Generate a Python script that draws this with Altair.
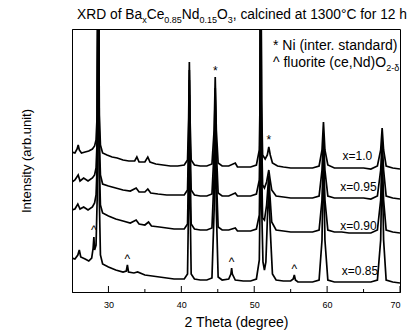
import altair as alt
import pandas as pd

# ---------------- data (2-theta in degrees, intensity in arbitrary units) ----------------
tt_100 = [25.0, 25.4, 25.7, 25.85, 26.0, 26.3, 26.8, 27.3, 27.8, 28.1, 28.3, 28.45, 28.6, 28.75, 28.9,
          29.2, 29.8, 30.5, 31.2, 32.0, 32.8, 33.6, 33.9, 34.2, 35.0, 35.4, 35.7, 36.5, 37.5, 38.5,
          39.5, 40.4, 40.85, 41.0, 41.1, 41.2, 41.35, 41.8, 42.6, 43.5, 44.2, 44.5, 44.65, 44.8, 45.05,
          45.6, 46.5, 47.4, 47.7, 48.5, 49.5, 50.3, 50.7, 50.8, 50.9, 51.0, 51.15, 51.5, 51.8, 52.0,
          52.2, 52.5, 53.2, 54.0, 55.0, 56.0, 57.0, 58.0, 58.9, 59.3, 59.5, 59.7, 60.1, 61.0, 62.0,
          63.0, 64.0, 65.0, 66.0, 66.9, 67.35, 67.55, 67.75, 68.1, 69.0, 70.0]
int_100 = [140, 139, 143, 147, 142, 139, 140, 141, 143, 146, 152, 177, 400, 177, 147,
           139, 137, 135, 134, 132, 131, 131, 135, 130, 130, 135, 130, 128, 127, 126,
           126, 127, 132, 172, 230, 172, 132, 127, 126, 126, 128, 162, 215, 162, 129,
           126, 126, 129, 125, 125, 125, 127, 142, 192, 400, 192, 137, 133, 137, 145,
           137, 129, 126, 125, 124, 124, 124, 124, 126, 142, 170, 142, 127, 124, 124,
           124, 124, 124, 123, 126, 142, 164, 142, 126, 124, 123]

tt_095 = [25.0, 25.4, 25.85, 26.1, 26.6, 27.2, 27.8, 28.1, 28.3, 28.45, 28.6, 28.75, 28.9, 29.2, 30.0,
          31.0, 32.0, 33.0, 33.8, 34.2, 35.0, 35.4, 35.8, 36.8, 38.0, 39.0, 40.4, 40.85, 41.0, 41.1,
          41.2, 41.35, 41.8, 42.6, 43.5, 44.2, 44.5, 44.65, 44.8, 45.05, 45.6, 46.5, 47.4, 47.7, 48.5,
          49.5, 50.3, 50.7, 50.8, 50.9, 51.0, 51.15, 51.4, 51.7, 51.85, 52.0, 52.15, 52.4, 53.0, 54.0,
          55.0, 56.0, 57.0, 58.0, 58.9, 59.3, 59.5, 59.7, 60.1, 61.0, 62.0, 63.0, 64.0, 65.0, 66.0,
          66.9, 67.35, 67.55, 67.75, 68.1, 69.0, 70.0]
int_095 = [110, 112, 117, 111, 114, 111, 114, 117, 124, 152, 400, 152, 117, 108, 106,
           104, 102, 101, 104, 100, 100, 103, 99, 98, 97, 97, 97, 102, 152, 222,
           152, 102, 97, 96, 96, 98, 142, 204, 142, 99, 96, 96, 99, 96, 96,
           96, 98, 112, 162, 400, 162, 107, 104, 110, 116, 122, 114, 102, 96, 95,
           94, 94, 94, 94, 96, 122, 157, 122, 96, 94, 94, 94, 94, 94, 93,
           96, 122, 152, 122, 96, 94, 93]

tt_090 = [25.0, 25.4, 25.8, 26.1, 26.6, 27.2, 27.8, 28.1, 28.3, 28.45, 28.6, 28.75, 28.9, 29.2, 30.0,
          31.0, 32.0, 33.0, 33.8, 34.2, 35.0, 35.5, 35.9, 37.0, 38.0, 39.0, 40.4, 40.85, 41.0, 41.1,
          41.2, 41.35, 41.8, 42.6, 43.5, 44.2, 44.5, 44.65, 44.8, 45.05, 45.6, 46.5, 47.4, 47.7, 48.5,
          49.5, 50.3, 50.7, 50.8, 50.9, 51.0, 51.15, 51.4, 51.7, 51.85, 52.0, 52.15, 52.4, 53.0, 54.0,
          55.0, 56.0, 57.0, 58.0, 58.9, 59.3, 59.5, 59.7, 60.1, 61.0, 62.0, 63.0, 64.0, 65.0, 66.0,
          66.9, 67.35, 67.55, 67.75, 68.1, 69.0, 70.0]
int_090 = [82, 83, 88, 83, 85, 82, 85, 89, 97, 127, 400, 127, 87, 79, 76,
           73, 71, 69, 72, 68, 67, 70, 66, 65, 64, 63, 63, 68, 127, 212,
           127, 68, 63, 62, 62, 64, 117, 192, 117, 65, 62, 62, 64, 61, 61,
           61, 63, 77, 132, 400, 132, 74, 72, 87, 102, 116, 97, 70, 62, 61,
           60, 60, 60, 60, 62, 92, 142, 92, 62, 60, 60, 59, 59, 59, 59,
           62, 92, 137, 92, 62, 60, 59]

tt_085 = [25.0, 25.4, 25.8, 26.0, 26.2, 26.8, 27.3, 27.7, 27.9, 28.0, 28.1, 28.3, 28.45, 28.6, 28.75,
          28.9, 29.2, 30.0, 31.0, 32.0, 32.45, 32.6, 32.75, 33.5, 34.0, 35.0, 36.0, 37.0, 38.0, 39.0,
          40.4, 40.85, 41.0, 41.1, 41.2, 41.35, 41.8, 42.6, 43.5, 44.2, 44.5, 44.65, 44.8, 45.05, 45.6,
          46.5, 46.8, 46.9, 47.0, 47.4, 48.5, 49.5, 50.3, 50.7, 50.8, 50.9, 51.0, 51.2, 51.4, 51.6,
          51.8, 52.0, 52.2, 52.5, 53.0, 54.0, 55.0, 55.35, 55.5, 55.65, 56.0, 57.0, 58.0, 58.9, 59.3,
          59.5, 59.7, 60.1, 61.0, 62.0, 63.0, 64.0, 65.0, 66.0, 66.9, 67.35, 67.55, 67.75, 68.1, 69.0,
          70.0]
int_085 = [34, 33, 37, 42, 35, 33, 31, 34, 44, 55, 42, 47, 92, 400, 92,
           37, 28, 25, 22, 20, 21, 27, 20, 19, 20, 17, 16, 15, 14, 13,
           13, 18, 92, 197, 92, 18, 13, 12, 12, 14, 82, 182, 82, 15, 12,
           13, 18, 24, 18, 12, 11, 11, 13, 32, 92, 400, 92, 30, 22, 30,
           72, 107, 62, 18, 12, 11, 11, 13, 17, 12, 10, 10, 10, 12, 52,
           142, 52, 12, 10, 10, 10, 10, 10, 10, 12, 52, 134, 52, 12, 10,
           9]

series_names = ["x=1.0", "x=0.95", "x=0.90", "x=0.85"]

# peak markers: symbol, 2-theta, intensity level
mark_sym = ["*", "*", "^", "^", "^", "^"]
mark_tt = [44.65, 52.0, 28.0, 32.6, 46.9, 55.5]
mark_int = [221, 152, 62, 33, 30, 23]

# trace labels
label_tt = [66.2, 66.8, 66.8, 67.0]
label_int = [136, 105, 66, 21]

x_ticks_major = [30, 40, 50, 60, 70]
x_ticks_minor = [35, 45, 55, 65]

# ---------------- build tables ----------------
rows = []
for name, tt, it in zip(series_names, [tt_100, tt_095, tt_090, tt_085],
                        [int_100, int_095, int_090, int_085]):
    for i, (a, b) in enumerate(zip(tt, it)):
        rows.append({"series": name, "tt": a, "I": b, "idx": i})
df = pd.DataFrame(rows)

marks_df = pd.DataFrame({"sym": mark_sym, "tt": mark_tt, "I": mark_int})
labels_df = pd.DataFrame({"lab": series_names, "tt": label_tt, "I": label_int})
major_df = pd.DataFrame({"tt": x_ticks_major})
minor_df = pd.DataFrame({"tt": x_ticks_minor})

W, H = 328, 263
FONT = "Liberation Sans"

xs = alt.Scale(domain=[25, 70], nice=False, zero=False)
ys = alt.Scale(domain=[0, 263], nice=False, zero=False)

lines = alt.Chart(df).mark_line(color="black", strokeWidth=1.7, clip=True).encode(
    x=alt.X("tt:Q", scale=xs, axis=alt.Axis(
        values=x_ticks_major, format="d", ticks=False, labelFontSize=9, labelPadding=8,
        title="2 Theta (degree)", titleFontSize=14, titlePadding=6, grid=False,
        titleFontWeight="normal")),
    y=alt.Y("I:Q", scale=ys, axis=alt.Axis(
        labels=False, ticks=False, grid=False, title="Intensity (arb.unit)",
        titleFontSize=13, titlePadding=39, titleFontWeight="normal")),
    detail="series:N",
    order="idx:Q",
)

major = alt.Chart(major_df).mark_rule(color="black", strokeWidth=1).encode(
    x=alt.X("tt:Q", scale=xs), y=alt.value(H), y2=alt.value(H - 6))
minor = alt.Chart(minor_df).mark_rule(color="black", strokeWidth=1).encode(
    x=alt.X("tt:Q", scale=xs), y=alt.value(H), y2=alt.value(H - 3))

peak_marks = alt.Chart(marks_df).mark_text(font=FONT, fontSize=12, color="black",
                                           baseline="middle").encode(
    x=alt.X("tt:Q", scale=xs), y=alt.Y("I:Q", scale=ys), text="sym:N")

trace_labels = alt.Chart(labels_df).mark_text(font=FONT, fontSize=12, color="black",
                                              align="right", baseline="middle").encode(
    x=alt.X("tt:Q", scale=xs), y=alt.Y("I:Q", scale=ys), text="lab:N")

# ---------------- rich text (title and legend with subscripts) ----------------
CW = {' ': 278, '*': 389, '(': 333, ')': 333, ',': 278, '-': 333, '.': 278, '=': 584,
      '^': 469, '°': 400, 'B': 667, 'C': 722, 'D': 722, 'N': 722, 'O': 778, 'R': 722,
      'T': 611, 'X': 667, 'a': 556, 'b': 556, 'c': 500, 'd': 556, 'e': 556, 'f': 278,
      'g': 556, 'h': 556, 'i': 222, 'l': 222, 'n': 556, 'o': 556, 'r': 333, 's': 500,
      't': 278, 'u': 556, 'x': 500, 'y': 500, 'δ': 556}


def text_width(s, size):
    return sum(CW.get(c, 556) for c in s) / 1000.0 * size


def rich_line(pieces, x0, y_base, size, sub_size, sub_shift):
    out = []
    x = x0
    for txt, kind in pieces:
        fs = size if kind == "n" else sub_size
        yy = y_base if kind == "n" else y_base + sub_shift
        out.append(alt.Chart(pd.DataFrame({"t": [txt]})).mark_text(
            font=FONT, fontSize=fs, color="black", align="left", baseline="alphabetic"
        ).encode(x=alt.value(x), y=alt.value(yy), text="t:N"))
        x += text_width(txt, fs)
    return out


title_pieces = [("XRD of Ba", "n"), ("x", "s"), ("Ce", "n"), ("0.85", "s"), ("Nd", "n"),
                ("0.15", "s"), ("O", "n"), ("3", "s"), (", calcined at 1300°C for 12 h", "n")]
legend1 = [("* Ni (inter. standard)", "n")]
legend2 = [("^ fluorite (ce,Nd)O", "n"), ("2-δ", "s")]

texts = []
texts += rich_line(title_pieces, 5, -10, 13.8, 9, 4)
texts += rich_line(legend1, 201, 21, 14, 9, 4)
texts += rich_line(legend2, 201, 38, 14, 9, 4)

chart = alt.layer(lines, major, minor, peak_marks, trace_labels, *texts).properties(
    width=W, height=H,
    padding={"left": 72, "top": 29, "right": 7, "bottom": 40},
    autosize=alt.AutoSizeParams(type="none"),
    background="white",
).configure_view(stroke="black", strokeWidth=1).configure_axis(
    domainColor="black", labelColor="black", titleColor="black", labelFont=FONT,
    titleFont=FONT, titleFontWeight="normal", domainWidth=1
)

chart.save("out.html", embed_options={"renderer": "svg", "actions": False})
